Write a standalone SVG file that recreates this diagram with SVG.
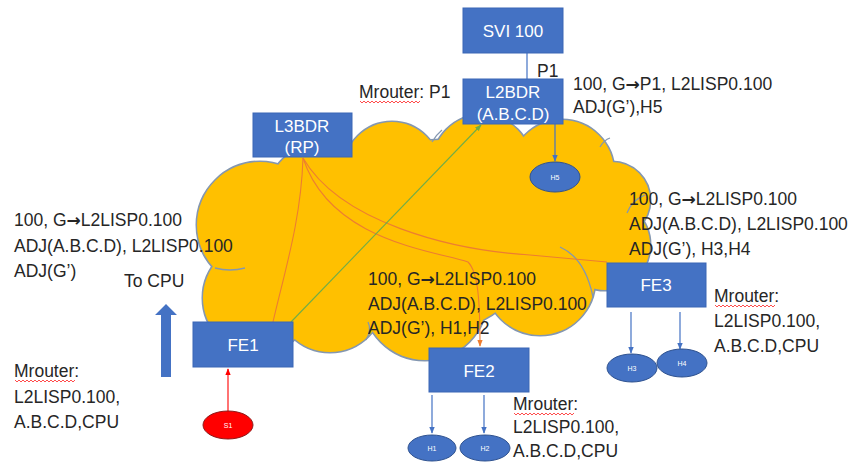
<svg xmlns="http://www.w3.org/2000/svg" width="854" height="463" viewBox="0 0 854 463">
<style>
.t{font-family:"Liberation Sans",Arial,"DejaVu Sans",sans-serif;font-size:17.5px;fill:#262626}
.arr{font-family:"DejaVu Sans",sans-serif;font-weight:bold;font-size:17px}
.bt{font-family:"Liberation Sans",Arial,sans-serif;font-size:17px;fill:#ffffff;text-anchor:middle}
.et{font-family:"Liberation Sans",Arial,sans-serif;font-size:7px;fill:#ffffff;text-anchor:middle}
.box{fill:#4472C4;stroke:#3A66B5;stroke-width:1}
.ell{fill:#4472C4;stroke:#2F528F;stroke-width:1}
.cs{fill:none;stroke:#8497B0;stroke-width:3}
.cf{fill:#FFC000;stroke:none}
.ia{fill:none;stroke:#8497B0;stroke-width:1.3}
.blue{stroke:#4472C4;stroke-width:1.2;fill:none}
.org{stroke:#ED7D31;stroke-width:1.1;fill:none}
.sq{fill:none;stroke:#FF0000;stroke-width:0.7}
</style>
<defs>
<marker id="ab" viewBox="0 0 10 10" refX="9" refY="5" markerWidth="6" markerHeight="6" orient="auto"><path d="M0,1 L10,5 L0,9 z" fill="#4472C4"/></marker>
<marker id="ao" viewBox="0 0 10 10" refX="9" refY="5" markerWidth="6" markerHeight="6" orient="auto"><path d="M0,1 L10,5 L0,9 z" fill="#ED7D31"/></marker>
<marker id="ag" viewBox="0 0 10 10" refX="9" refY="5" markerWidth="6" markerHeight="6" orient="auto"><path d="M0,1 L10,5 L0,9 z" fill="#70AD47"/></marker>
<marker id="ar" viewBox="0 0 10 10" refX="9" refY="5" markerWidth="6" markerHeight="6" orient="auto"><path d="M0,1 L10,5 L0,9 z" fill="#FF0000"/></marker>
<g id="cloudshapes">
<circle cx="260" cy="225" r="63"/>
<circle cx="258" cy="298" r="55"/>
<circle cx="318" cy="195" r="50"/>
<circle cx="392" cy="170" r="48"/>
<circle cx="482" cy="165" r="50"/>
<circle cx="562" cy="172" r="52"/>
<circle cx="612" cy="200" r="38"/>
<circle cx="605" cy="245" r="45"/>
<circle cx="540" cy="280" r="55"/>
<circle cx="425" cy="298" r="62"/>
<circle cx="330" cy="298" r="54"/>
<circle cx="440" cy="235" r="95"/>
<circle cx="320" cy="250" r="70"/>
<circle cx="555" cy="230" r="70"/>
</g>
</defs>
<rect width="854" height="463" fill="#ffffff"/>

<g id="cloud">
<use href="#cloudshapes" class="cs"/>
<use href="#cloudshapes" class="cf"/>
<path class="ia" d="M215,268 Q230,272 245,268"/>
<path class="ia" d="M627,213 Q632,200 645,195"/>
<path class="ia" d="M560,247 Q585,258 593,297"/>
<path class="ia" d="M366,340 Q372,330 368,322"/>
<path class="ia" d="M432,142 Q436,135 442,130"/>
<path class="ia" d="M600,147 Q604,140 610,138"/>
</g>

<g id="connectors">
<line class="blue" x1="527" y1="53" x2="527" y2="79"/>
<line class="blue" x1="555" y1="124" x2="555" y2="161" marker-end="url(#ab)"/>
<path class="org" d="M303,158 C301,220 285,270 273,322"/>
<path class="org" d="M303,158 C330,240 430,250 468,262 C478,272 480,300 480,346" marker-end="url(#ao)"/>
<path class="org" d="M303,158 C340,222 450,250 530,255 L607,262"/>
<line x1="291" y1="322" x2="481" y2="125" stroke="#70AD47" stroke-width="1.1" marker-end="url(#ag)"/>
<line x1="228" y1="411" x2="228" y2="369" stroke="#FF0000" stroke-width="1.1" marker-end="url(#ar)"/>
<line class="blue" x1="432" y1="395" x2="432" y2="433" marker-end="url(#ab)"/>
<line class="blue" x1="484" y1="395" x2="484" y2="433" marker-end="url(#ab)"/>
<line class="blue" x1="631" y1="312" x2="631" y2="353" marker-end="url(#ab)"/>
<line class="blue" x1="680" y1="312" x2="680" y2="349" marker-end="url(#ab)"/>
<path d="M161,377 L161,315 L155,315 L166,304 L177,315 L171,315 L171,377 z" fill="#4472C4"/>
</g>

<g id="svi100">
<rect class="box" x="463" y="8" width="100" height="45"/>
<text class="bt" x="513" y="37">SVI 100</text>
</g>
<g id="l2bdr">
<rect class="box" x="463" y="79" width="100" height="45"/>
<text class="bt" x="513" y="98">L2BDR</text>
<text class="bt" x="513" y="120">(A.B.C.D)</text>
</g>
<g id="l3bdr">
<rect class="box" x="253" y="113" width="99" height="44"/>
<text class="bt" x="302" y="132">L3BDR</text>
<text class="bt" x="302" y="153">(RP)</text>
</g>
<g id="fe1">
<rect class="box" x="193" y="322" width="100" height="45"/>
<text class="bt" x="243" y="351">FE1</text>
</g>
<g id="fe2">
<rect class="box" x="429" y="348" width="100" height="44"/>
<text class="bt" x="479" y="377">FE2</text>
</g>
<g id="fe3">
<rect class="box" x="607" y="263" width="99" height="44"/>
<text class="bt" x="656" y="291">FE3</text>
</g>
<g id="h5"><ellipse class="ell" cx="555" cy="177" rx="25" ry="15"/><text class="et" x="555" y="180">H5</text></g>
<g id="h1"><ellipse class="ell" cx="432" cy="448" rx="24" ry="13"/><text class="et" x="432" y="451">H1</text></g>
<g id="h2"><ellipse class="ell" cx="485" cy="448" rx="25" ry="13"/><text class="et" x="485" y="451">H2</text></g>
<g id="h3"><ellipse class="ell" cx="632" cy="368" rx="25" ry="14"/><text class="et" x="632" y="371">H3</text></g>
<g id="h4"><ellipse class="ell" cx="682" cy="363" rx="25" ry="14"/><text class="et" x="682" y="366">H4</text></g>
<g id="s1"><ellipse cx="228" cy="425" rx="25" ry="14" fill="#FF0000" stroke="#8B1A1A" stroke-width="1"/><text class="et" x="228" y="428">S1</text></g>

<g id="labels">
<text class="t" x="537" y="77">P1</text>
<text class="t" x="359" y="98">Mrouter: P1</text>
<path class="sq" d="M360,101 l2,2 l2,-2 l2,2 l2,-2 l2,2 l2,-2 l2,2 l2,-2 l2,2 l2,-2 l2,2 l2,-2 l2,2 l2,-2 l2,2 l2,-2 l2,2 l2,-2 l2,2 l2,-2 l2,2 l2,-2 l2,2 l2,-2 l2,2 l2,-2 l2,2 l2,-2 l2,2 l2,-2"/>
<text class="t" x="573" y="90">100, G<tspan class="arr">→</tspan>P1, L2LISP0.100</text>
<text class="t" x="573" y="113">ADJ(G’),H5</text>

<text class="t" x="14" y="226">100, G<tspan class="arr">→</tspan>L2LISP0.100</text>
<text class="t" x="14" y="252">ADJ(A.B.C.D), L2LISP0.100</text>
<text class="t" x="14" y="277">ADJ(G’)</text>
<text class="t" x="124" y="287">To CPU</text>

<text class="t" x="14" y="377">Mrouter:</text>
<path class="sq" d="M15,380 l2,2 l2,-2 l2,2 l2,-2 l2,2 l2,-2 l2,2 l2,-2 l2,2 l2,-2 l2,2 l2,-2 l2,2 l2,-2 l2,2 l2,-2 l2,2 l2,-2 l2,2 l2,-2 l2,2 l2,-2 l2,2 l2,-2 l2,2 l2,-2 l2,2 l2,-2 l2,2 l2,-2"/>
<text class="t" x="14" y="403">L2LISP0.100,</text>
<text class="t" x="14" y="428">A.B.C.D,CPU</text>

<text class="t" x="368" y="285">100, G<tspan class="arr">→</tspan>L2LISP0.100</text>
<text class="t" x="368" y="310">ADJ(A.B.C.D), L2LISP0.100</text>
<text class="t" x="368" y="334">ADJ(G’), H1,H2</text>

<text class="t" x="629" y="205">100, G<tspan class="arr">→</tspan>L2LISP0.100</text>
<text class="t" x="629" y="230">ADJ(A.B.C.D), L2LISP0.100</text>
<text class="t" x="629" y="255">ADJ(G’), H3,H4</text>

<text class="t" x="714" y="302">Mrouter:</text>
<path class="sq" d="M715,305 l2,2 l2,-2 l2,2 l2,-2 l2,2 l2,-2 l2,2 l2,-2 l2,2 l2,-2 l2,2 l2,-2 l2,2 l2,-2 l2,2 l2,-2 l2,2 l2,-2 l2,2 l2,-2 l2,2 l2,-2 l2,2 l2,-2 l2,2 l2,-2 l2,2 l2,-2 l2,2 l2,-2"/>
<text class="t" x="714" y="327">L2LISP0.100,</text>
<text class="t" x="714" y="352">A.B.C.D,CPU</text>

<text class="t" x="513" y="410">Mrouter:</text>
<path class="sq" d="M514,413 l2,2 l2,-2 l2,2 l2,-2 l2,2 l2,-2 l2,2 l2,-2 l2,2 l2,-2 l2,2 l2,-2 l2,2 l2,-2 l2,2 l2,-2 l2,2 l2,-2 l2,2 l2,-2 l2,2 l2,-2 l2,2 l2,-2 l2,2 l2,-2 l2,2 l2,-2 l2,2 l2,-2"/>
<text class="t" x="513" y="433">L2LISP0.100,</text>
<text class="t" x="513" y="457">A.B.C.D,CPU</text>
</g>
</svg>
